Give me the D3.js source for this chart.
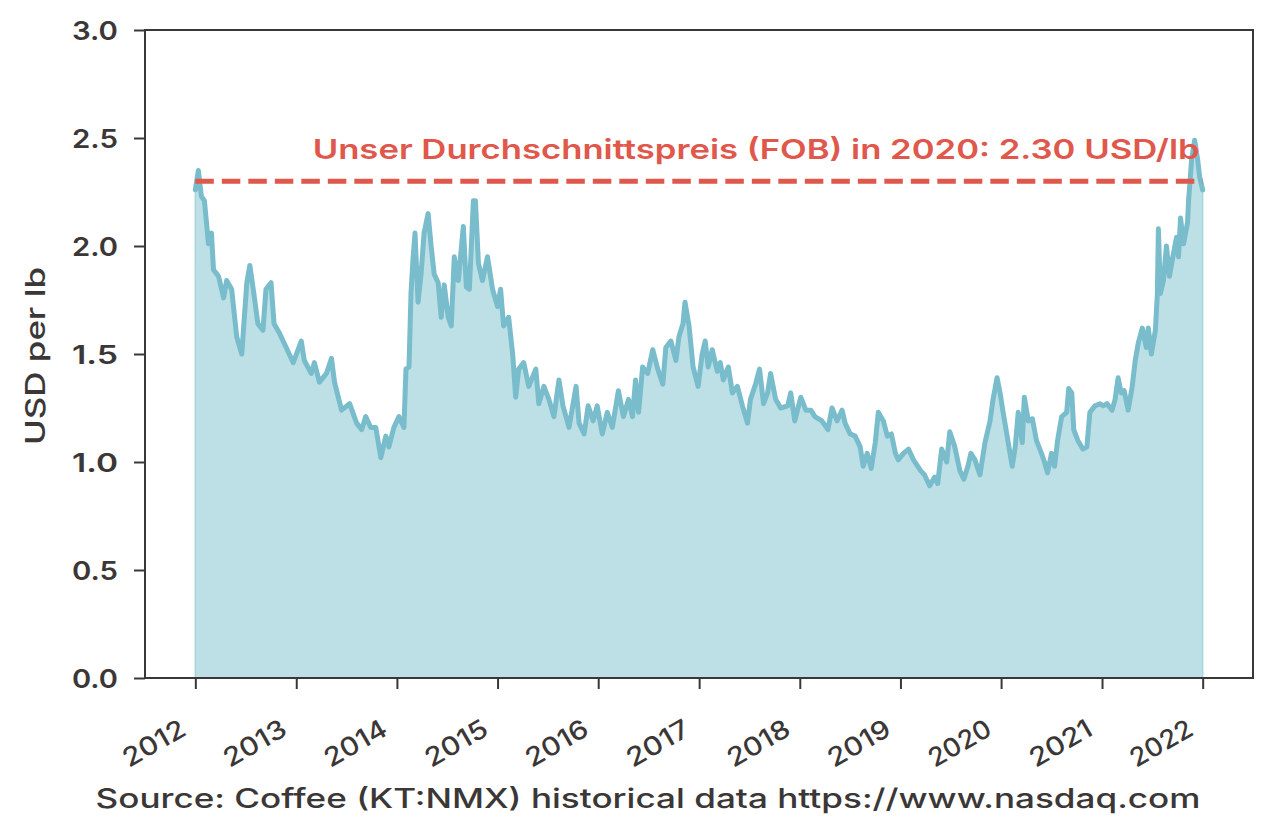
<!DOCTYPE html>
<html><head><meta charset="utf-8">
<script src="https://cdn.jsdelivr.net/npm/d3@7"></script>
<style>
body{margin:0;background:#fff}
text{font-family:Inter,"Open Sans",sans-serif;font-weight:600}
</style>
</head><body>
<svg id="c" width="1280" height="832"></svg>
<script>
// decimal years of the sampled prices
const dates = [
  2012.00,2012.03,2012.06,2012.09,2012.13,2012.16,2012.18,2012.23,2012.28,2012.31,2012.36,2012.41,2012.46,2012.51,2012.54,2012.58,2012.62,2012.67,2012.70,2012.75,2012.78,2012.83,2012.90,2012.97,
  2013.05,2013.08,2013.15,2013.18,2013.23,2013.30,2013.35,2013.38,2013.45,2013.53,2013.60,2013.65,2013.69,2013.74,2013.79,2013.84,2013.89,2013.92,2013.97,
  2014.02,2014.07,2014.09,2014.12,2014.14,2014.16,2014.18,2014.21,2014.24,2014.27,2014.31,2014.34,2014.37,2014.41,2014.44,2014.47,2014.51,2014.54,2014.57,2014.61,2014.66,2014.69,2014.72,2014.76,2014.78,2014.81,2014.85,2014.90,2014.95,
  2015.00,2015.03,2015.06,2015.11,2015.15,2015.18,2015.21,2015.26,2015.31,2015.38,2015.41,2015.46,2015.51,2015.56,2015.61,2015.65,2015.71,2015.78,2015.81,2015.86,2015.90,2015.95,2015.99,
  2016.04,2016.09,2016.14,2016.20,2016.25,2016.30,2016.34,2016.37,2016.40,2016.44,2016.49,2016.54,2016.59,2016.64,2016.67,2016.72,2016.77,2016.80,2016.84,2016.86,2016.90,2016.94,2016.99,
  2017.03,2017.06,2017.09,2017.13,2017.18,2017.21,2017.24,2017.29,2017.33,2017.38,2017.43,2017.48,2017.51,2017.56,2017.60,2017.64,2017.68,2017.71,2017.76,2017.81,2017.88,2017.91,2017.95,
  2018.01,2018.06,2018.11,2018.15,2018.22,2018.28,2018.32,2018.37,2018.42,2018.45,2018.50,2018.55,2018.60,2018.63,2018.67,2018.71,2018.75,2018.78,2018.83,2018.87,2018.91,2018.95,2018.98,
  2019.03,2019.08,2019.13,2019.20,2019.24,2019.29,2019.34,2019.37,2019.41,2019.46,2019.49,2019.54,2019.59,2019.63,2019.67,2019.70,2019.74,2019.79,2019.84,2019.89,2019.92,2019.96,2019.99,
  2020.02,2020.06,2020.11,2020.14,2020.17,2020.21,2020.23,2020.27,2020.31,2020.35,2020.40,2020.43,2020.46,2020.50,2020.53,2020.56,2020.60,2020.65,2020.67,2020.70,2020.72,2020.76,2020.81,2020.85,2020.88,2020.93,2020.98,
  2021.01,2021.05,2021.10,2021.13,2021.16,2021.19,2021.22,2021.26,2021.30,2021.33,2021.36,2021.40,2021.44,2021.46,2021.49,2021.53,2021.55,2021.56,2021.58,2021.61,2021.64,2021.67,2021.70,2021.74,2021.76,2021.78,2021.81,2021.85,2021.86,2021.89,2021.92,2021.95,2021.97,
  2022.00
];
// coffee price, USD per lb
const prices = [
  2.26,2.35,2.23,2.21,2.01,2.06,1.89,1.86,1.76,1.84,1.80,1.58,1.50,1.83,1.91,1.78,1.64,1.61,1.80,1.83,1.64,1.60,1.53,1.46,
  1.56,1.47,1.41,1.46,1.37,1.41,1.48,1.37,1.24,1.27,1.18,1.15,1.21,1.16,1.16,1.02,1.12,1.07,1.16,
  1.21,1.16,1.43,1.44,1.78,1.94,2.06,1.74,1.87,2.06,2.15,2.00,1.87,1.83,1.67,1.82,1.67,1.63,1.95,1.84,2.09,1.81,1.80,2.21,2.21,1.92,1.84,1.95,1.80,
  1.72,1.80,1.63,1.67,1.50,1.30,1.43,1.46,1.35,1.43,1.27,1.35,1.29,1.21,1.38,1.26,1.16,1.35,1.18,1.13,1.26,1.19,1.26,
  1.13,1.23,1.16,1.33,1.21,1.29,1.21,1.38,1.23,1.44,1.41,1.52,1.43,1.36,1.53,1.56,1.47,1.58,1.64,1.74,1.63,1.44,1.35,
  1.50,1.56,1.44,1.52,1.42,1.46,1.38,1.44,1.32,1.35,1.26,1.18,1.29,1.36,1.43,1.27,1.32,1.41,1.29,1.25,1.26,1.32,1.19,
  1.30,1.24,1.24,1.21,1.19,1.15,1.25,1.19,1.24,1.18,1.13,1.12,1.07,0.98,1.04,0.97,1.09,1.23,1.19,1.12,1.13,1.04,1.01,
  1.04,1.06,1.01,0.96,0.94,0.89,0.93,0.90,1.06,1.00,1.14,1.07,0.96,0.92,0.98,1.04,1.01,0.94,1.09,1.19,1.29,1.39,1.32,
  1.23,1.12,0.98,1.07,1.23,1.09,1.30,1.19,1.20,1.10,1.04,1.00,0.95,1.04,0.98,1.10,1.21,1.23,1.34,1.32,1.15,1.10,1.06,1.07,1.23,1.26,1.27,
  1.26,1.27,1.24,1.29,1.39,1.32,1.33,1.24,1.35,1.47,1.55,1.62,1.53,1.62,1.50,1.61,1.78,2.08,1.78,1.84,2.00,1.86,1.94,2.04,1.95,2.13,2.01,2.11,2.21,2.40,2.49,2.40,2.32,
  2.26
];
const yTicks = [0, 0.5, 1.0, 1.5, 2.0, 2.5, 3.0];
const xTickYears = [2012,2013,2014,2015,2016,2017,2018,2019,2020,2021,2022];
const avgPrice = 2.30;
const avgRange = [2012, 2022];
const avgLabel = "Unser Durchschnittspreis (FOB) in 2020: 2.30 USD/lb";
const yLabel = "USD per lb";
const sourceLabel = "Source: Coffee (KT:NMX) historical data https://www.nasdaq.com";

(function () {
const toDate = yr => {
  const y0 = Math.floor(yr);
  const a = Date.UTC(y0,0,1), b = Date.UTC(y0+1,0,1);
  return new Date(a + (yr - y0) * (b - a));
};

const data = dates.map((d,i) => ({date: toDate(d), v: prices[i]}));

const mL = 145, mR = 1253, mT = 30, mB = 678;
const ink = "#3b3737", red = "#e0574b", lineC = "#79bccb", fillC = "#bde0e6";

const svg = d3.select("#c");
const x = d3.scaleUtc().domain([toDate(2011.5), toDate(2022.5)]).range([mL, mR]);
const y = d3.scaleLinear().domain([0, 3]).range([mB, mT]);

// area + line
svg.append("path").datum(data)
  .attr("d", d3.area().x(d=>x(d.date)).y0(y(0)).y1(d=>y(d.v)))
  .attr("fill", fillC).attr("stroke", "#a8d4dd").attr("stroke-width", 1.5);
svg.append("path").datum(data)
  .attr("d", d3.line().x(d=>x(d.date)).y(d=>y(d.v)))
  .attr("fill", "none").attr("stroke", lineC).attr("stroke-width", 5)
  .attr("stroke-linejoin", "round").attr("stroke-linecap", "round");

// average line
svg.append("line")
  .attr("x1", x(toDate(avgRange[0]))).attr("x2", x(toDate(avgRange[1])))
  .attr("y1", y(avgPrice)).attr("y2", y(avgPrice))
  .attr("stroke", red).attr("stroke-width", 5).attr("stroke-dasharray", "18.5,8");
svg.append("text")
  .attr("x", x(toDate(avgRange[1])) - 3).attr("y", y(avgPrice) - 22)
  .attr("text-anchor", "end").attr("fill", red).attr("font-size", 27.5)
  .attr("textLength", 887).attr("lengthAdjust", "spacingAndGlyphs")
  .text(avgLabel);

// frame
svg.append("rect").attr("x", mL).attr("y", mT).attr("width", mR-mL).attr("height", mB-mT)
  .attr("fill", "none").attr("stroke", ink).attr("stroke-width", 2);

// axes
const gy = svg.append("g").attr("transform", `translate(${mL},0)`)
  .call(d3.axisLeft(y).tickValues(yTicks).tickFormat(d3.format(".1f")).tickSize(11).tickPadding(16));
const gx = svg.append("g").attr("transform", `translate(0,${mB})`)
  .call(d3.axisBottom(x).tickValues(xTickYears.map(toDate)).tickFormat(d3.utcFormat("%Y")).tickSize(11));
[gy, gx].forEach(g => {
  g.select(".domain").remove();
  g.selectAll(".tick line").attr("stroke", ink).attr("stroke-width", 2);
  g.selectAll("text").attr("fill", ink).attr("font-size", 26)
    .style("font-family", "Inter, 'Open Sans', sans-serif").style("font-weight", 600);
});
gy.selectAll("text").attr("textLength", 46).attr("lengthAdjust", "spacingAndGlyphs").attr("dy", "0.36em");
gx.selectAll("text").attr("x", 0).attr("y", 0).attr("dy", 0).style("font-weight", 500)
  .attr("text-anchor", "end").attr("textLength", 68).attr("lengthAdjust", "spacingAndGlyphs")
  .attr("transform", "translate(-8,56) rotate(-30)");

// y label
svg.append("text")
  .attr("transform", `translate(45,${(mT+mB)/2 + 2}) rotate(-90)`)
  .attr("text-anchor", "middle").attr("fill", ink).attr("font-size", 27)
  .style("font-weight", 500)
  .attr("textLength", 178).attr("lengthAdjust", "spacingAndGlyphs")
  .text(yLabel);

// source
svg.append("text")
  .attr("x", 648).attr("y", 808).attr("text-anchor", "middle")
  .attr("fill", ink).attr("font-size", 27).style("font-weight", 500)
  .attr("textLength", 1105).attr("lengthAdjust", "spacingAndGlyphs")
  .text(sourceLabel);
})();
</script>
</body></html>
